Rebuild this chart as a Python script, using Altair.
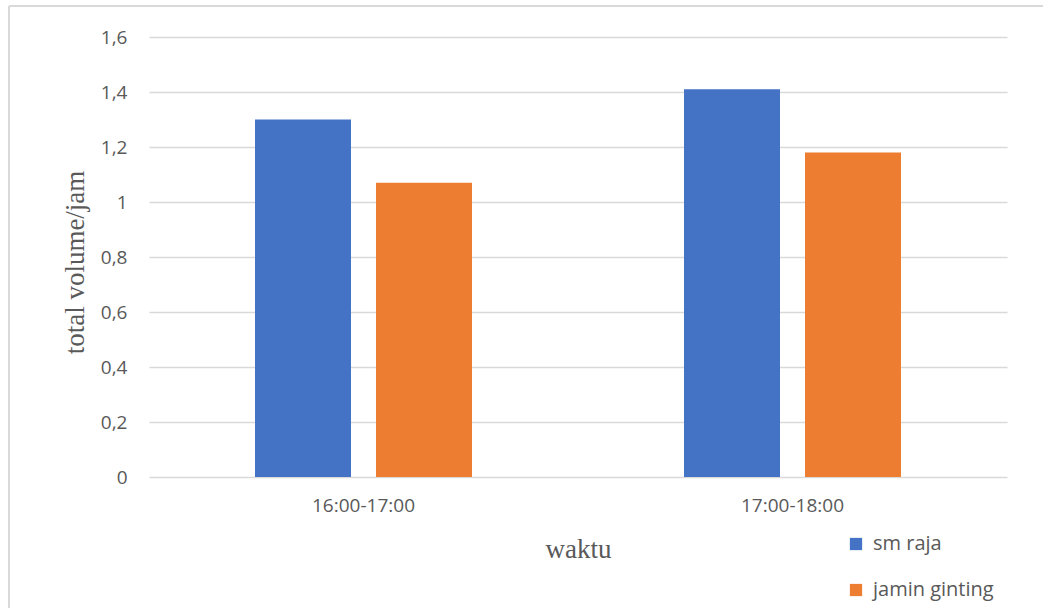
import altair as alt
import pandas as pd

# Hourly traffic volume per road segment
periods = ["16:00-17:00", "17:00-18:00"]
roads = ["sm raja", "jamin ginting"]
sm_raja = [1.30, 1.41]
jamin_ginting = [1.07, 1.18]
y_ticks = [0, 0.2, 0.4, 0.6, 0.8, 1.0, 1.2, 1.4, 1.6]
colors = ["#4472C4", "#ED7D31"]

rows = []
for i, p in enumerate(periods):
    rows.append({"waktu": p, "jalan": roads[0], "volume": sm_raja[i]})
    rows.append({"waktu": p, "jalan": roads[1], "volume": jamin_ginting[i]})
df = pd.DataFrame(rows)

label_font = "Open Sans"
title_font = "Liberation Serif"
grey = "#595959"

bars = alt.Chart(df).mark_bar().encode(
    x=alt.X(
        "waktu:N",
        sort=periods,
        scale=alt.Scale(paddingInner=0, paddingOuter=0),
        axis=alt.Axis(
            title="waktu",
            labelAngle=0,
            domain=False,
            ticks=False,
            labelPadding=19,
            labelFont=label_font,
            labelFontSize=19,
            labelColor=grey,
            titleFont=title_font,
            titleFontSize=27,
            titleFontWeight="normal",
            titleColor=grey,
            titleBaseline="alphabetic",
            titleY=80,
        ),
    ),
    xOffset=alt.XOffset(
        "jalan:N",
        sort=roads,
        scale=alt.Scale(paddingInner=0.2066, paddingOuter=0.876),
    ),
    y=alt.Y(
        "volume:Q",
        scale=alt.Scale(domain=[0, 1.6], nice=False),
        axis=alt.Axis(
            title="total volume/jam",
            values=y_ticks,
            labelExpr="replace(format(datum.value, '.1~f'), '.', ',')",
            domain=False,
            ticks=False,
            grid=True,
            gridColor="#d9d9d9",
            gridWidth=1.5,
            labelPadding=22,
            labelFont=label_font,
            labelFontSize=19,
            labelColor=grey,
            titleFont=title_font,
            titleFontSize=27,
            titleFontWeight="normal",
            titleColor=grey,
            titleAlign="center",
            titleBaseline="middle",
            titleX=-74,
            titleY=225,
        ),
    ),
    color=alt.Color(
        "jalan:N",
        sort=roads,
        scale=alt.Scale(domain=roads, range=colors),
        legend=alt.Legend(
            title=None,
            orient="none",
            legendX=697,
            legendY=497,
            direction="vertical",
            symbolType="square",
            symbolSize=150,
            symbolStrokeWidth=0,
            labelFont=label_font,
            labelFontSize=20,
            labelColor=grey,
            rowPadding=26,
            labelOffset=7,
        ),
    ),
)

# Outer frame around the chart object
frame_left = alt.Chart(pd.DataFrame({"k": [0]})).mark_rule(
    color="#d9d9d9", strokeWidth=2, clip=False
).encode(x=alt.value(-140), y=alt.value(-31), y2=alt.value(575))
frame_top = alt.Chart(pd.DataFrame({"k": [0]})).mark_rule(
    color="#d9d9d9", strokeWidth=2, clip=False
).encode(x=alt.value(-140), x2=alt.value(900), y=alt.value(-31))

chart = (
    alt.layer(frame_left, frame_top, bars)
    .properties(
        width=858,
        height=440,
        autosize=alt.AutoSizeParams(type="none"),
        padding={"left": 149, "top": 37, "right": 36, "bottom": 131},
        background="white",
    )
    .configure_view(stroke=None)
)

chart.save("out.html", embed_options={"renderer": "svg", "actions": False})
